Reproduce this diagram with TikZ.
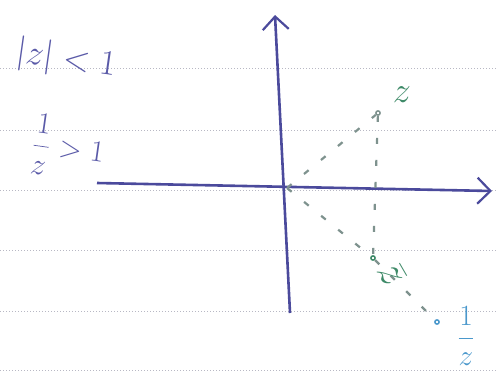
\documentclass[tikz,border=0pt]{standalone}
\usetikzlibrary{arrows.meta}
\definecolor{ink}{HTML}{4B4A9C}
\definecolor{inkl}{HTML}{5A5AA8}
\definecolor{grn}{HTML}{3E8A68}
\definecolor{blu}{HTML}{4A98CC}
\definecolor{rule}{HTML}{B8B8C4}
\definecolor{dsh}{HTML}{7E928E}
\tikzset{
  ruleline/.style={rule, line width=1pt, dotted},
  axis/.style={ink, line width=2.6pt, -{Straight Barb[length=13pt,width=26pt,line width=2.2pt]}},
  guide/.style={dsh, line width=2.2pt, dash pattern=on 6pt off 16pt},
  pt/.style={circle, draw, line width=1.5pt, inner sep=1.5pt},
  lab/.style={inner sep=1pt, font=\LARGE}
}
\begin{document}
\begin{tikzpicture}[x=1pt,y=-1pt]
\useasboundingbox (0,0) rectangle (497,373);
\fill[white] (0,0) rectangle (497,373);
% ruled paper
\foreach \yy in {68,130,190,250,311,370}
  \draw[ruleline] (0,\yy) -- (497,\yy);
% axes
\coordinate (xl) at (97,183);
\coordinate (xr) at (492,191);
\coordinate (yb) at (290,313);
\coordinate (yt) at (275,15);
\coordinate (o) at (287,188);
\draw[axis] (xl) -- (xr);
\draw[axis] (yb) -- (yt);
% points
\node[pt, draw=dsh] (z) at (378,113) {};
\node[pt, draw=grn] (zb) at (373,258) {};
\node[pt, draw=blu] (iz) at (437,322) {};
% guides
\draw[guide] (o) -- (z);
\draw[guide] (z) -- (zb);
\draw[guide] (o) -- (zb);
\draw[guide] (zb) -- (iz);
% labels
\node[lab, grn, scale=2.1] (zl) at (402,95) {$z$};
\node[lab, grn, rotate=-60, scale=2.5] (zbl) at (392,274) {$\bar z$};
\node[lab, blu, scale=1.7] (izl) at (466,336) {$\displaystyle\frac{1}{z}$};
\node[lab, inkl, rotate=-8, scale=2.05] (c1) at (66,60) {$|z|<1$};
\node[lab, inkl, rotate=-8, scale=1.75] (c2) at (68,148) {$\displaystyle\frac{1}{z}>1$};
\end{tikzpicture}
\end{document}
